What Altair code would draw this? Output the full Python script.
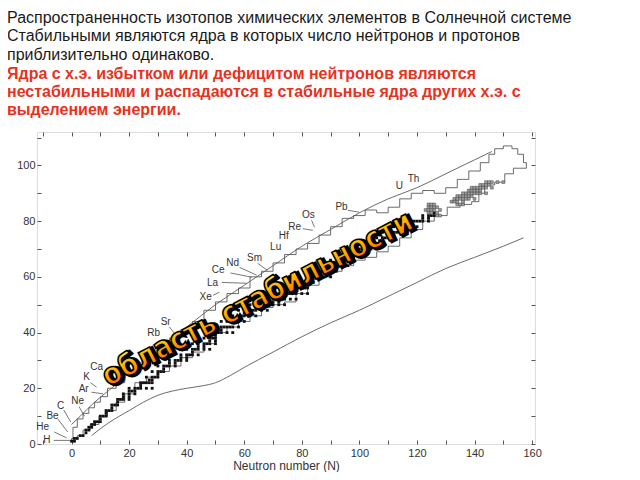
import altair as alt
import pandas as pd

TITLE_LINES = [
    "Распространенность изотопов химических элементов в Солнечной системе",
    "Стабильными являются ядра в которых число нейтронов и протонов",
    "приблизительно одинаково.",
]
RED_LINES = [
    "Ядра с х.э. избытком или дефицитом нейтронов являются",
    "нестабильными и распадаются в стабильные ядра других х.э. с",
    "выделением энергии.",
]
BAND_TEXT = "область стабильности"
X_TITLE = "Neutron number  (N)"

# proton drip line (smooth, upper)
PDRIP_N = [0, 3, 8, 15, 22, 30, 40, 50, 60, 70, 80, 90, 100, 110, 120, 130, 140, 146]
PDRIP_Z = [7, 10, 15, 21, 27.5, 34, 42, 50, 57, 64, 71, 77, 83, 88, 92, 97, 102, 105]

# neutron drip line (smooth, lower)
NDRIP_N = [7, 10, 15, 20, 25, 30, 35, 40, 45, 50, 55, 60, 70, 80, 90, 100, 110, 120, 130, 140, 150, 157]
NDRIP_Z = [3, 5.5, 9, 12, 15, 17.5, 19, 20, 20.8, 22, 24.5, 27.5, 33, 38.5, 43.5, 48, 53, 58, 63, 67, 71, 74]

# envelope of known nuclides (jagged): upper side, then lower side back
ENV_UP_N = [0, 0, 1, 3, 5, 7, 9, 11, 14, 17, 20, 24, 28, 32, 36, 40, 44, 48, 52, 56, 60, 64, 68, 72,
            76, 80, 84, 88, 92, 96, 100, 104, 108, 112, 116, 120, 124, 128, 132, 136, 140, 144, 146,
            148, 152, 154, 156, 158]
ENV_UP_Z = [1, 2, 6, 9, 11, 13, 15, 17, 20, 22, 25, 28, 31, 34, 38, 41, 44, 48, 51, 54, 56, 60, 62, 65,
            68, 70, 72, 75, 78, 81, 82, 84, 83, 85, 88, 90, 91, 90, 92, 95, 98, 101, 104,
            106, 107, 106, 104, 101]
ENV_LO_N = [158, 155, 152, 149, 145, 142, 141, 137, 133, 128, 124, 120, 116, 112, 108, 104, 100, 96,
            92, 88, 84, 80, 76, 72, 68, 64, 60, 56, 52, 48, 44, 40, 36, 32, 28, 24, 20, 17, 14, 11,
            8, 5, 3, 1, 0]
ENV_LO_Z = [99, 99, 97, 94, 93, 90, 87, 86, 85, 82, 80, 77, 74, 71, 69, 67, 66, 64,
            62, 60, 57, 54, 51, 50, 49, 46, 44, 42, 40, 36, 33, 31, 28, 26, 24, 22, 18, 15, 12, 10,
            7, 5, 3, 2, 1]

# stable nuclei: proton number -> neutron numbers
STABLE = {
    1: [0, 1], 2: [1, 2], 3: [3, 4], 4: [5], 5: [5, 6], 6: [6, 7], 7: [7, 8], 8: [8, 9, 10],
    9: [10], 10: [10, 11, 12], 11: [12], 12: [12, 13, 14], 13: [14], 14: [14, 15, 16], 15: [16],
    16: [16, 17, 18, 20], 17: [18, 20], 18: [18, 20, 22], 19: [20, 21, 22],
    20: [20, 22, 23, 24, 26, 28], 21: [24], 22: [24, 25, 26, 27, 28], 23: [27, 28],
    24: [26, 28, 29, 30], 25: [30], 26: [28, 30, 31, 32], 27: [32], 28: [30, 32, 33, 34, 36],
    29: [34, 36], 30: [34, 36, 37, 38, 40], 31: [38, 40], 32: [38, 40, 41, 42, 44], 33: [42],
    34: [40, 42, 43, 44, 46, 48], 35: [44, 46], 36: [42, 44, 46, 47, 48, 50], 37: [48, 50],
    38: [46, 48, 49, 50], 39: [50], 40: [50, 51, 52, 54, 56], 41: [52],
    42: [50, 52, 53, 54, 55, 56, 58], 44: [52, 54, 55, 56, 57, 58, 60], 45: [58],
    46: [56, 58, 59, 60, 62, 64], 47: [60, 62], 48: [58, 60, 62, 63, 64, 66, 68], 49: [64, 66],
    50: [62, 64, 65, 66, 67, 68, 69, 70, 72, 74], 51: [70, 72], 52: [68, 70, 71, 72, 73, 74, 76, 78],
    53: [74], 54: [70, 72, 74, 75, 76, 77, 78, 80, 82], 55: [78], 56: [74, 76, 78, 79, 80, 81, 82],
    57: [81, 82], 58: [78, 80, 82, 84], 59: [82], 60: [82, 83, 84, 85, 86, 88, 90],
    62: [82, 85, 86, 87, 88, 90, 92], 63: [88, 90], 64: [88, 90, 91, 92, 93, 94, 96], 65: [94],
    66: [90, 92, 94, 95, 96, 97, 98], 67: [98], 68: [94, 96, 98, 99, 100, 102], 69: [100],
    70: [98, 100, 101, 102, 103, 104, 106], 71: [104, 105], 72: [102, 104, 105, 106, 107, 108],
    73: [107, 108], 74: [106, 108, 109, 110, 112], 75: [110, 112],
    76: [108, 110, 111, 112, 113, 114, 116], 77: [114, 116], 78: [112, 114, 116, 117, 118, 120],
    79: [118], 80: [116, 118, 119, 120, 121, 122, 124], 81: [122, 124], 82: [122, 124, 125, 126],
    83: [126],
}
# long-lived heavy nuclei (grey squares)
LONG_LIVED = {
    82: [127, 128], 83: [124, 125, 127], 84: [123, 124, 125, 126, 128],
    85: [124, 125, 126, 127], 86: [124, 125, 126, 134, 135, 136], 87: [132, 133, 134, 136],
    88: [133, 134, 135, 136, 137, 138, 140], 89: [134, 135, 136, 137, 138, 139],
    90: [136, 137, 138, 139, 140, 141, 142, 144], 91: [138, 139, 140, 141, 142],
    92: [139, 140, 141, 142, 143, 144, 146], 93: [142, 143, 144, 145], 94: [144, 145, 146, 148, 150],
}

EL_NAMES = ["H", "He", "Be", "C", "Ne", "Ar", "K", "Ca", "Rb", "Sr", "Xe", "La", "Ce", "Nd", "Sm",
            "Lu", "Hf", "Re", "Os", "Pb", "U", "Th"]
EL_N = [-8.6, -10.0, -6.6, -3.8, 2.1, 4.2, 5.2, 8.7, 28.5, 32.7, 46.6, 49.0, 50.9, 56.0, 63.6,
        70.9, 73.7, 77.5, 82.3, 93.8, 113.9, 118.8]
EL_Z = [1.4, 6.1, 10.0, 13.6, 15.4, 19.7, 24.0, 27.6, 39.8, 43.7, 52.7, 57.9, 62.3, 64.9, 66.7,
        70.6, 74.6, 77.8, 82.1, 84.9, 92.5, 95.3]

LEAD_N1 = [-6.2, -6.0, -4.8, -2.7, 2.6, 6.9, 6.6, 34.0, 49.2, 52.2, 55.2, 58.4, 64.6, 80.3, 83.4, 96.0]
LEAD_Z1 = [1.3, 4.3, 9.0, 12.2, 13.4, 18.6, 22.0, 42.0, 53.4, 58.0, 61.4, 63.4, 64.9, 77.3, 80.3, 83.9]
LEAD_N2 = [-0.5, -1.7, -1.3, -0.3, 4.5, 11.0, 8.7, 37.6, 51.4, 60.8, 62.5, 64.3, 68.0, 83.8, 84.4, 100.0]
LEAD_Z2 = [1.3, 2.2, 4.3, 7.9, 10.0, 18.0, 20.4, 37.3, 54.5, 57.7, 59.9, 60.6, 62.4, 76.7, 77.8, 83.2]

BAND_N = [64.6]
BAND_Z = [52.0]

X_TICKS = list(range(-10, 161, 10))
Y_TICKS = list(range(0, 111, 10))

# ---------------------------------------------------------------- tables
env_n = ENV_UP_N + ENV_LO_N
env_z = ENV_UP_Z + ENV_LO_Z
env_df = pd.DataFrame({"N": env_n, "Z": env_z, "i": range(len(env_n))})
pd_df = pd.DataFrame({"N": PDRIP_N, "Z": PDRIP_Z, "i": range(len(PDRIP_N))})
nd_df = pd.DataFrame({"N": NDRIP_N, "Z": NDRIP_Z, "i": range(len(NDRIP_N))})

def cells(d):
    rows = [(n, z) for z, ns in d.items() for n in ns]
    return pd.DataFrame({"N": [r[0] for r in rows], "Z": [r[1] for r in rows]})

stable_df = cells(STABLE)
ll_df = cells(LONG_LIVED)
el_df = pd.DataFrame({"name": EL_NAMES, "N": EL_N, "Z": EL_Z})
lead_df = pd.DataFrame({"N1": LEAD_N1, "Z1": LEAD_Z1, "N2": LEAD_N2, "Z2": LEAD_Z2})
band_df = pd.DataFrame({"t": [BAND_TEXT], "N": BAND_N, "Z": BAND_Z})

xs = alt.Scale(domain=[-12, 161], nice=False, zero=False)
ys = alt.Scale(domain=[0, 112], nice=False, zero=False)
FONT = "Liberation Sans"

ax_b = alt.Axis(orient="bottom", values=X_TICKS,
                labelExpr="datum.value % 20 == 0 ? datum.label : ''",
                tickSize=4, offset=-4, domain=False, grid=False, labelPadding=3,
                labelFontSize=11, labelColor="#333", tickColor="#555", labelFont=FONT,
                title=X_TITLE, titleFont=FONT, titleFontSize=12, titleFontWeight="normal",
                titleColor="#333", titlePadding=2)
ax_l = alt.Axis(orient="left", values=Y_TICKS,
                labelExpr="datum.value % 20 == 0 ? datum.label : ''",
                tickSize=4, offset=-4, domain=False, grid=False, labelPadding=2,
                labelFontSize=11, labelColor="#333", tickColor="#555", labelFont=FONT, title=None)
ax_t = alt.Axis(orient="top", values=X_TICKS, labels=False, tickSize=4, offset=-4,
                domain=False, grid=False, tickColor="#555", title=None)
ax_r = alt.Axis(orient="right", values=Y_TICKS, labels=False, tickSize=4, offset=-4,
                domain=False, grid=False, tickColor="#555", title=None)

LINE_C = "#5a5a5a"

env = alt.Chart(env_df).mark_line(interpolate="step", color=LINE_C, strokeWidth=0.9).encode(
    x=alt.X("N:Q", scale=xs, axis=ax_b),
    y=alt.Y("Z:Q", scale=ys, axis=ax_l),
    order="i:Q",
)
pdrip = alt.Chart(pd_df).mark_line(interpolate="monotone", color=LINE_C, strokeWidth=0.9).encode(
    x=alt.X("N:Q", scale=xs, axis=None), y=alt.Y("Z:Q", scale=ys, axis=None), order="i:Q")
ndrip = alt.Chart(nd_df).mark_line(interpolate="monotone", color=LINE_C, strokeWidth=0.9).encode(
    x=alt.X("N:Q", scale=xs, axis=None), y=alt.Y("Z:Q", scale=ys, axis=None), order="i:Q")

stable = alt.Chart(stable_df).transform_calculate(
    n0="datum.N - 0.5", n1="datum.N + 0.5", z0="datum.Z - 0.5", z1="datum.Z + 0.5"
).mark_rect(color="#111").encode(
    x=alt.X("n0:Q", scale=xs, axis=ax_t), x2="n1:Q",
    y=alt.Y("z0:Q", scale=ys, axis=ax_r), y2="z1:Q",
)
longlived = alt.Chart(ll_df).transform_calculate(
    n0="datum.N - 0.5", n1="datum.N + 0.5", z0="datum.Z - 0.5", z1="datum.Z + 0.5"
).mark_rect(fill="#a0a0a0", stroke="#444", strokeWidth=0.5).encode(
    x=alt.X("n0:Q", scale=xs, axis=None), x2="n1:Q",
    y=alt.Y("z0:Q", scale=ys, axis=None), y2="z1:Q",
)
leaders = alt.Chart(lead_df).mark_rule(color="#555", strokeWidth=0.8).encode(
    x=alt.X("N1:Q", scale=xs, axis=None), x2="N2:Q",
    y=alt.Y("Z1:Q", scale=ys, axis=None), y2="Z2:Q",
)
labels = alt.Chart(el_df).mark_text(font=FONT, fontSize=10, color="#333").encode(
    x=alt.X("N:Q", scale=xs, axis=None), y=alt.Y("Z:Q", scale=ys, axis=None), text="name:N")

grad = alt.LinearGradient(
    gradient="linear",
    stops=[alt.GradientStop(color="#fff43c", offset=0),
           alt.GradientStop(color="#ffb000", offset=0.5),
           alt.GradientStop(color="#ff4c00", offset=1)],
    x1=0, x2=0, y1=0, y2=1,
)
BAND_FONT = "'Liberation Sans Narrow', 'DejaVu Sans Condensed', sans-serif"
BAND_SIZE = 30
band_shadow = alt.Chart(band_df).mark_text(
    angle=332.6, font=BAND_FONT, fontSize=BAND_SIZE, fontWeight="bold", fill="#000",
    stroke="#000", strokeWidth=3, align="center", baseline="middle", dx=2, dy=2,
).encode(x=alt.X("N:Q", scale=xs, axis=None), y=alt.Y("Z:Q", scale=ys, axis=None), text="t:N")
band = alt.Chart(band_df).mark_text(
    angle=332.6, font=BAND_FONT, fontSize=BAND_SIZE, fontWeight="bold", fill=grad,
    stroke="#000", strokeWidth=1.5, align="center", baseline="middle",
).encode(x=alt.X("N:Q", scale=xs, axis=None), y=alt.Y("Z:Q", scale=ys, axis=None), text="t:N")

chart = alt.layer(
    env, pdrip, ndrip, stable, longlived, leaders, labels, band_shadow, band
).resolve_axis(x="independent", y="independent").properties(
    width=498, height=312,
    padding={"left": 29, "top": 124, "right": 97, "bottom": 28},
    autosize=alt.AutoSizeParams(type="none"),
    title=alt.TitleParams(
        text=TITLE_LINES, subtitle=RED_LINES, anchor="start", frame="group",
        dx=-30, offset=14, font=FONT, fontSize=16, fontWeight="normal", color="#1a1a1a",
        lineHeight=18.5, subtitleFont=FONT, subtitleFontSize=16, subtitleFontWeight="bold",
        subtitleColor="#e8321e", subtitleLineHeight=18, subtitlePadding=3,
    ),
).configure_view(stroke="#555", strokeWidth=1).configure(background="white")

chart.save("out.html", embed_options={"renderer": "svg", "actions": False})
